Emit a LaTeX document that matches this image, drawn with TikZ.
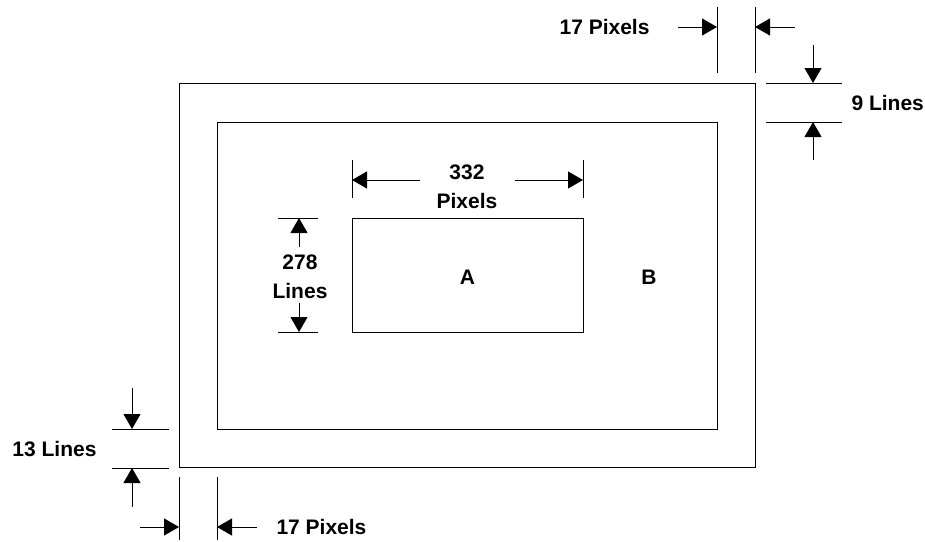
\documentclass[tikz,border=0pt]{standalone}
\usepackage{fontspec}
\setmainfont{Liberation Sans}
\usetikzlibrary{arrows.meta}

\begin{document}
\begin{tikzpicture}[x=1pt,y=-1pt,line width=1pt,
		dimarrow/.style={-{Triangle[length=15pt,width=17pt]}},
		dimlabel/.style={font=\fontsize{21}{29}\selectfont\bfseries,inner sep=0pt,align=center},
		frame/.style={draw,inner sep=0pt}]
		\useasboundingbox (0,0) rectangle (925,541);

		% frames
		\node[frame,minimum width=576pt,minimum height=384pt] (outer) at (467,275) {};
		\node[frame,minimum width=500pt,minimum height=307pt] (inner) at (467,275.5) {};
		\node[frame,minimum width=231pt,minimum height=114pt] (active) at (467.5,275) {};
		\node[dimlabel] (a) at (467.5,277) {A};
		\node[dimlabel] (b) at (649,277) {B};

		% extension lines
		\foreach \x in {717,755}
			\draw (\x,7) -- (\x,73);
		\foreach \y in {83,122}
			\draw (766,\y) -- (842,\y);
		\foreach \y in {429,468}
			\draw (112,\y) -- (169,\y);
		\foreach \x in {179,217}
			\draw (\x,477) -- (\x,540);
		\foreach \x in {352,583}
			\draw (\x,160) -- (\x,198);
		\foreach \y in {218,332}
			\draw (278,\y) -- (318,\y);

		% dimension arrows
		\coordinate (tl0) at (678,27);  \coordinate (tl1) at (717,27);
		\coordinate (tr0) at (795,27);  \coordinate (tr1) at (755,27);
		\draw[dimarrow] (tl0) -- (tl1);
		\draw[dimarrow] (tr0) -- (tr1);
		\node[dimlabel,anchor=east] (toppx) at (650,27) {17 Pixels};

		\coordinate (rt0) at (813,45);  \coordinate (rt1) at (813,83);
		\coordinate (rb0) at (813,160); \coordinate (rb1) at (813,122);
		\draw[dimarrow] (rt0) -- (rt1);
		\draw[dimarrow] (rb0) -- (rb1);
		\node[dimlabel,anchor=west] (rightln) at (851,103) {9 Lines};

		\coordinate (lt0) at (132,388); \coordinate (lt1) at (132,429);
		\coordinate (lb0) at (132,507); \coordinate (lb1) at (132,468);
		\draw[dimarrow] (lt0) -- (lt1);
		\draw[dimarrow] (lb0) -- (lb1);
		\node[dimlabel,anchor=east] (leftln) at (97,449) {13 Lines};

		\coordinate (bl0) at (140,527); \coordinate (bl1) at (179,527);
		\coordinate (br0) at (257,527); \coordinate (br1) at (217,527);
		\draw[dimarrow] (bl0) -- (bl1);
		\draw[dimarrow] (br0) -- (br1);
		\node[dimlabel,anchor=west] (botpx) at (276,527) {17 Pixels};

		\coordinate (wl0) at (420,180); \coordinate (wl1) at (352,180);
		\coordinate (wr0) at (515,180); \coordinate (wr1) at (583,180);
		\draw[dimarrow] (wl0) -- (wl1);
		\draw[dimarrow] (wr0) -- (wr1);
		\node[dimlabel] (width) at (467,186.5) {332\\Pixels};

		\coordinate (ht0) at (299,247); \coordinate (ht1) at (299,218);
		\coordinate (hb0) at (299,303); \coordinate (hb1) at (299,332);
		\draw[dimarrow] (ht0) -- (ht1);
		\draw[dimarrow] (hb0) -- (hb1);
		\node[dimlabel] (height) at (300,276.5) {278\\Lines};
	\end{tikzpicture}
\end{document}
